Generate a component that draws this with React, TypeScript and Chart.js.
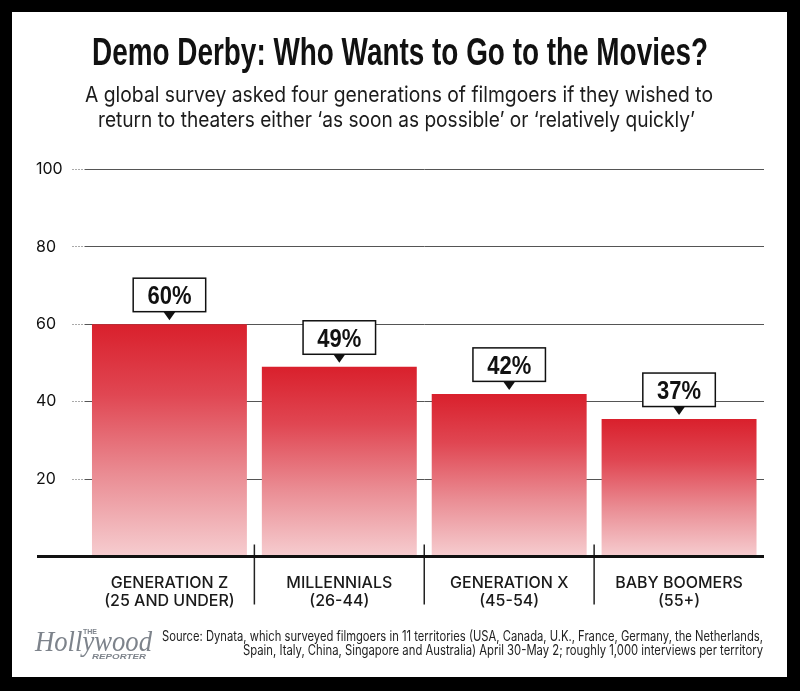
import React, { useEffect, useRef } from 'react';
import { Chart, registerables } from 'chart.js';

Chart.register(...registerables);

const categories = [
  ['GENERATION Z', '(25 AND UNDER)'],
  ['MILLENNIALS', '(26-44)'],
  ['GENERATION X', '(45-54)'],
  ['BABY BOOMERS', '(55+)'],
];
// bar heights as drawn (the last bar sits a little below its 37% label in the original)
const shares = [60, 49, 42, 35.5];
const shareLabels = ['60%', '49%', '42%', '37%'];
const yTicks = [20, 40, 60, 80, 100];

const titleText = 'Demo Derby: Who Wants to Go to the Movies?';
const subtitleLines = [
  'A global survey asked four generations of filmgoers if they wished to',
  'return to theaters either \u2018as soon as possible\u2019 or \u2018relatively quickly\u2019',
];
const sourceLines = [
  'Source: Dynata, which surveyed filmgoers in 11 territories (USA, Canada, U.K., France, Germany, the Netherlands,',
  'Spain, Italy, China, Singapore and Australia) April 30-May 2; roughly 1,000 interviews per territory',
];

// draws text squeezed/stretched to an exact width
function fitText(ctx: CanvasRenderingContext2D, text: string, left: number, y: number, width: number) {
  const w = ctx.measureText(text).width;
  ctx.save();
  ctx.translate(left, y);
  ctx.scale(width / w, 1);
  ctx.textAlign = 'left';
  ctx.textBaseline = 'alphabetic';
  ctx.fillText(text, 0, 0);
  ctx.restore();
}

const framePlugin = {
  id: 'frame',
  beforeDraw(chart: Chart) {
    const ctx = chart.ctx;
    ctx.save();
    ctx.fillStyle = '#000';
    ctx.fillRect(0, 0, chart.width, chart.height);
    ctx.fillStyle = '#fff';
    ctx.fillRect(12, 12, 775, 665);

    ctx.fillStyle = '#111';
    ctx.font = 'bold 38px "Liberation Sans", Arial, sans-serif';
    fitText(ctx, titleText, 92, 65, 616);

    ctx.fillStyle = '#1c1c1c';
    ctx.font = '21.5px Inter, "Noto Sans", sans-serif';
    fitText(ctx, subtitleLines[0], 85, 101.5, 628);
    fitText(ctx, subtitleLines[1], 98, 127, 597);

    ctx.fillStyle = '#222';
    ctx.font = '14px Inter, "Noto Sans", sans-serif';
    fitText(ctx, sourceLines[0], 162, 641, 601);
    fitText(ctx, sourceLines[1], 243, 654.5, 520);

    // masthead
    ctx.fillStyle = '#7d838b';
    ctx.font = 'italic 30px "Liberation Serif", serif';
    fitText(ctx, 'Hollywood', 35, 650.5, 117);
    ctx.font = 'bold 6.5px "Liberation Sans", Arial, sans-serif';
    fitText(ctx, 'THE', 83, 634, 14);
    ctx.font = 'italic bold 8px "Liberation Sans", Arial, sans-serif';
    fitText(ctx, 'REPORTER', 92, 658.5, 54);
    ctx.restore();
  },
  afterDraw(chart: Chart) {
    const ctx = chart.ctx;
    const x = chart.scales.x;
    const y = chart.scales.y;
    const base = y.getPixelForValue(0);
    ctx.save();

    // dividers between categories
    ctx.strokeStyle = '#222';
    ctx.lineWidth = 1.5;
    for (let i = 1; i < categories.length; i++) {
      const px = (x.getPixelForValue(i - 1) + x.getPixelForValue(i)) / 2;
      ctx.beginPath();
      ctx.moveTo(px, base - 12);
      ctx.lineTo(px, base + 48);
      ctx.stroke();
    }

    // baseline
    ctx.strokeStyle = '#111';
    ctx.lineWidth = 3;
    ctx.beginPath();
    ctx.moveTo(37, base);
    ctx.lineTo(chart.chartArea.right, base);
    ctx.stroke();

    // value callouts
    const meta = chart.getDatasetMeta(0);
    meta.data.forEach((bar, i) => {
      const { x: cx, y: top } = bar.getProps(['x', 'y'], true) as { x: number; y: number };
      const bottom = top - 12.5;
      const h = 33.5;
      const w = 72.5;
      ctx.fillStyle = '#fff';
      ctx.fillRect(cx - w / 2, bottom - h, w, h);
      ctx.strokeStyle = '#111';
      ctx.lineWidth = 1.5;
      ctx.strokeRect(cx - w / 2, bottom - h, w, h);
      ctx.fillStyle = '#111';
      ctx.beginPath();
      ctx.moveTo(cx - 6, bottom);
      ctx.lineTo(cx + 6, bottom);
      ctx.lineTo(cx, bottom + 8.5);
      ctx.closePath();
      ctx.fill();
      ctx.font = 'bold 25.5px "Liberation Sans", Arial, sans-serif';
      fitText(ctx, shareLabels[i], cx - 22, bottom - 7.7, 44);
    });
    ctx.restore();
  },
};

export default function App() {
  const canvasRef = useRef<HTMLCanvasElement>(null);
  const chartInstance = useRef<Chart | null>(null);

  useEffect(() => {
    document.body.style.margin = '0';
    if (!canvasRef.current) return;

    chartInstance.current = new Chart(canvasRef.current, {
      type: 'bar',
      data: {
        labels: categories,
        datasets: [
          {
            data: shares,
            barPercentage: 0.912,
            categoryPercentage: 1,
            borderWidth: 0,
            backgroundColor: (c: any) => {
              const chart = c.chart;
              if (!chart.chartArea || c.dataIndex === undefined) return '#dc2430';
              const ys = chart.scales.y;
              const top = ys.getPixelForValue(shares[c.dataIndex]);
              const bottom = ys.getPixelForValue(0);
              const g = chart.ctx.createLinearGradient(0, top, 0, bottom);
              g.addColorStop(0, '#d9202c');
              g.addColorStop(0.3, '#e04652');
              g.addColorStop(0.65, '#ea8d94');
              g.addColorStop(1, '#f6cdd0');
              return g;
            },
          },
        ],
      },
      options: {
        responsive: false,
        animation: false,
        layout: { padding: { left: 36, right: 36, top: 169.3, bottom: 64.5 } },
        plugins: {
          legend: { display: false },
          tooltip: { enabled: false },
        },
        scales: {
          x: {
            grid: { display: false, drawTicks: false },
            border: { display: false },
            afterFit: (s: any) => {
              s.height = 70;
            },
            ticks: {
              color: '#1a1a1a',
              padding: 17,
              maxRotation: 0,
              autoSkip: false,
              font: { family: 'Inter, "Noto Sans", sans-serif', size: 16, weight: 500, lineHeight: 1.15 },
            },
          },
          y: {
            min: 0,
            max: 100,
            z: 1,
            afterFit: (s: any) => {
              s.width = 48.5;
            },
            afterBuildTicks: (s: any) => {
              s.ticks = yTicks.map((v) => ({ value: v }));
            },
            border: { display: false },
            grid: {
              color: '#555',
              lineWidth: 1,
              borderDash: [1, 2],
              tickBorderDash: [1, 2],
              tickColor: '#555',
              tickLength: 12,
            },
            ticks: {
              crossAlign: 'far',
              color: '#111',
              font: { family: 'Inter, "Noto Sans", sans-serif', size: 16, weight: 400 },
            },
          },
        },
      },
      plugins: [framePlugin],
    });

    return () => {
      chartInstance.current?.destroy();
    };
  }, []);

  return (
    <div style={{ width: 800, height: 691 }}>
      <canvas ref={canvasRef} width={800} height={691} />
    </div>
  );
}
